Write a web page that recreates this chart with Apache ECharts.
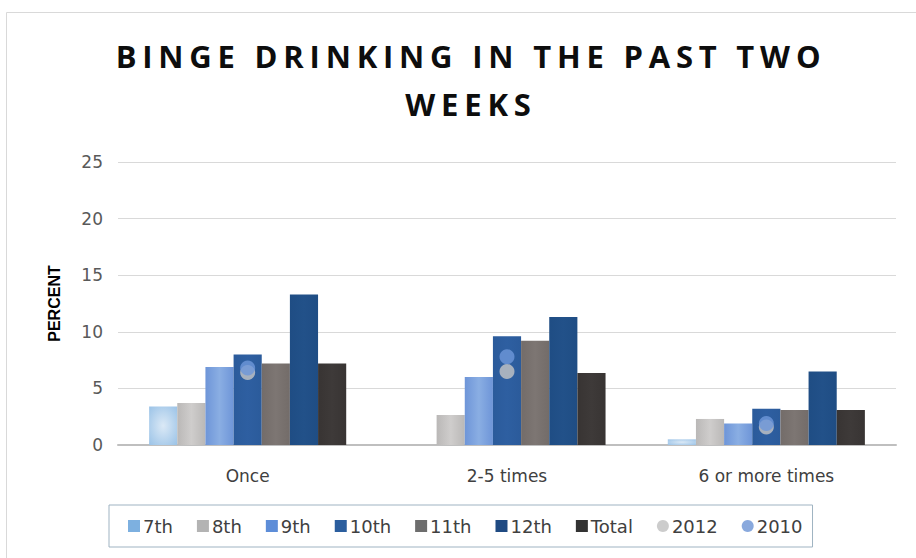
<!DOCTYPE html>
<html>
<head>
<meta charset="utf-8">
<script src="https://cdn.jsdelivr.net/npm/echarts@6/dist/echarts.min.js"></script>
<style>
  html, body { margin: 0; padding: 0; background: #fff; }
  #chart { width: 916px; height: 558px; }
  /* the title is spaced out in the original */
  #chart svg text[style*="Open Sans"] { letter-spacing: 5.8px; }
</style>
</head>
<body>
<div id="chart"></div>
<script>
// categories and values
var categories = ['Once', '2-5 times', '6 or more times']
var gradeNames = ['7th', '8th', '9th', '10th', '11th', '12th', 'Total']
var grade7 = [3.4, 0, 0.5]
var grade8 = [3.7, 2.65, 2.3]
var grade9 = [6.9, 6.0, 1.9]
var grade10 = [8.0, 9.6, 3.2]
var grade11 = [7.2, 9.2, 3.1]
var grade12 = [13.3, 11.3, 6.5]
var total = [7.2, 6.35, 3.1]
var year2012 = [6.4, 6.5, 1.6]
var year2010 = [6.8, 7.8, 1.9]
var yTicks = [0, 5, 10, 15, 20, 25]

var chart = echarts.init(document.getElementById('chart'), null, { renderer: 'svg' })

function lin(edge, mid) {
  return new echarts.graphic.LinearGradient(0, 0, 1, 0, [
    { offset: 0, color: edge },
    { offset: 0.5, color: mid },
    { offset: 1, color: edge }
  ])
}

var barColors = [
  new echarts.graphic.RadialGradient(0.5, 0.5, 0.75, [
    { offset: 0, color: '#dbe9f6' },
    { offset: 1, color: '#96c0e6' }
  ]),
  lin('#bab8b7', '#cfcdcc'),
  lin('#6e95d8', '#8aaee3'),
  lin('#2b5b9b', '#2e5fa1'),
  lin('#736c69', '#7d7673'),
  lin('#1f4d84', '#225189'),
  lin('#383433', '#3e3a39')
]
var legendColors = ['#7db0e0', '#b3b3b3', '#5d8dd8', '#2b5e9e', '#6d6d6d', '#1f4a82', '#333333', '#bfbfbf', '#6b93d4']
var gradeData = [grade7, grade8, grade9, grade10, grade11, grade12, total]

var series = gradeNames.map(function (name, i) {
  return {
    name: name,
    type: 'bar',
    barGap: '0%',
    barCategoryGap: '24%',
    data: gradeData[i],
    itemStyle: { color: barColors[i] }
  }
})
series.push({
  name: '2012',
  type: 'scatter',
  symbolSize: 15,
  data: year2012,
  itemStyle: { color: '#c6c6c6' },
  z: 5
})
series.push({
  name: '2010',
  type: 'scatter',
  symbolSize: 15,
  data: year2010,
  itemStyle: { color: '#6e97d9' },
  z: 6
})

var legendNames = gradeNames.concat(['2012', '2010'])

chart.setOption({
  animation: false,
  graphic: [{
    type: 'rect',
    shape: { x: 6.5, y: 12.5, width: 930, height: 560 },
    style: { fill: 'none', stroke: '#d9d9d9', lineWidth: 1 }
  }],
  title: {
    text: 'BINGE DRINKING IN THE PAST TWO\nWEEKS',
    left: 466,
    textAlign: 'center',
    top: 27,
    textStyle: {
      fontFamily: 'Open Sans',
      fontWeight: 'bold',
      fontSize: 31,
      lineHeight: 48,
      color: '#0d0d0d'
    }
  },
  legend: {
    top: 505,
    left: 109,
    width: 716,
    itemWidth: 12,
    itemHeight: 12,
    itemGap: 24,
    padding: [12, 10, 12, 19],
    borderColor: '#9fb3c2',
    borderWidth: 1,
    data: legendNames.map(function (n, i) {
      return {
        name: n,
        icon: i < 7 ? 'rect' : 'circle',
        itemStyle: { color: legendColors[i] }
      }
    }),
    textStyle: { fontSize: 18, color: '#404040', fontFamily: 'DejaVu Sans', padding: [0, 0, 0, -2] }
  },
  grid: { left: 118, right: 20, top: 162, bottom: 113 },
  xAxis: {
    type: 'category',
    data: categories,
    axisTick: { show: false },
    axisLine: { lineStyle: { color: '#bfbfbf', width: 2 } },
    axisLabel: { fontSize: 17, color: '#404040', margin: 22, fontFamily: 'DejaVu Sans' }
  },
  yAxis: {
    type: 'value',
    min: yTicks[0],
    max: yTicks[yTicks.length - 1],
    interval: 5,
    name: 'PERCENT',
    nameLocation: 'middle',
    nameGap: 56,
    nameRotate: 90,
    nameTextStyle: { fontSize: 16, fontWeight: 'bold', color: '#000', fontFamily: 'Liberation Sans' },
    axisLabel: { fontSize: 17, color: '#595959', margin: 15, fontFamily: 'DejaVu Sans' },
    splitLine: { lineStyle: { color: '#d9d9d9' } }
  },
  series: series
})
</script>
</body>
</html>
